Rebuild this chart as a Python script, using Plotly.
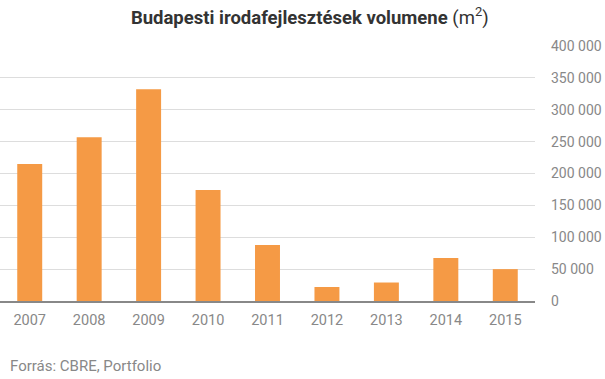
import plotly.graph_objects as go

years = ["2007", "2008", "2009", "2010", "2011", "2012", "2013", "2014", "2015"]
volume = [215000, 257000, 332000, 174000, 88000, 22000, 29000, 67500, 50000]
y_ticks = [0, 50000, 100000, 150000, 200000, 250000, 300000, 350000, 400000]

fig = go.Figure()
fig.add_trace(go.Bar(x=years, y=volume, marker=dict(color="#F59A45", line=dict(width=0)),
                     hoverinfo="x+y"))

fig.update_layout(
    width=605, height=379,
    margin=dict(l=0, r=70, t=46, b=78, autoexpand=False),
    paper_bgcolor="white", plot_bgcolor="white",
    font=dict(family="Roboto", color="#888888", size=14),
    separators=". ",
    bargap=0.58,
    showlegend=False,
    title=dict(
        text="<b>Budapesti irodafejlesztések volumene</b> (m<sup>2</sup>)",
        x=0.512, xanchor="center", y=0.972, yanchor="top",
        font=dict(family="Roboto", size=18.5, color="#333333"),
    ),
    xaxis=dict(
        type="category", showgrid=False, showline=True, linecolor="#888888", linewidth=1.5,
        ticks="", tickfont=dict(size=14.5, color="#888888"), ticklabelstandoff=5,
        fixedrange=True, automargin=False,
    ),
    yaxis=dict(
        side="right", range=[0, 400000], tickvals=y_ticks, tickformat=",d",
        showgrid=True, gridcolor="#dddddd", gridwidth=1, zeroline=False,
        showline=False, ticks="", tickfont=dict(size=14, color="#888888"),
        ticklabelstandoff=15, fixedrange=True, automargin=False,
    ),
    annotations=[dict(
        text="Forrás: CBRE, Portfolio", xref="paper", yref="paper",
        x=0, xshift=8, y=0, yshift=-65, xanchor="left", yanchor="middle",
        showarrow=False, font=dict(family="Roboto", size=15, color="#888888"),
    )],
)

fig.write_html("out.html", config={"displayModeBar": False},
               post_script="document.body.style.margin='0';document.body.style.padding='0';")
